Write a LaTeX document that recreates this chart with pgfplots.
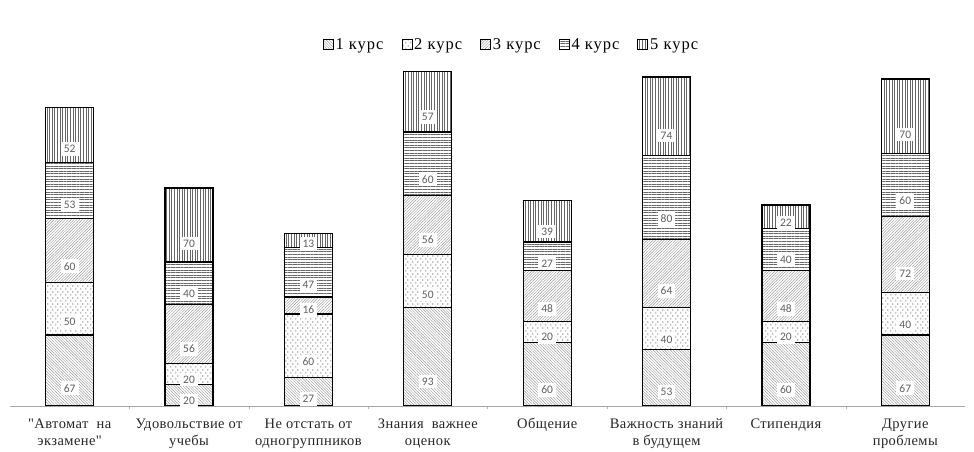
\documentclass[border=0pt]{standalone}
\usepackage{fontspec}
\setmainfont{Liberation Serif}[Ligatures=TeXOff]
\newfontfamily\calib{Carlito}
\usepackage{pgfplots}
\pgfplotsset{compat=1.18}
\usepackage{pgfplotstable}
\usetikzlibrary{patterns,patterns.meta}

\pgfdeclarepattern{
  name=vdash, type=uncolored,
  bottom left={\pgfpointorigin}, top right={\pgfpoint{5pt}{6pt}},
  tile size={\pgfpoint{5pt}{6pt}},
  code={
    \pgfsetlinewidth{0.6pt}
    \pgfpathmoveto{\pgfpoint{1pt}{0.5pt}}\pgfpathlineto{\pgfpoint{1pt}{2.5pt}}
    \pgfpathmoveto{\pgfpoint{3.5pt}{3.5pt}}\pgfpathlineto{\pgfpoint{3.5pt}{5.5pt}}
    \pgfusepath{stroke}
  }
}

\pgfplotstableread{
x c1 c2 c3 c4 c5
0 67 50 60 53 52
1 20 20 56 40 70
2 27 60 16 47 13
3 93 50 56 60 57
4 60 20 48 27 39
5 53 40 64 80 74
6 60 20 48 40 22
7 67 40 72 60 70
}\data

\begin{document}
\begin{tikzpicture}
\begin{axis}[
  ybar stacked, bar width=48pt,
  scale only axis, width=955pt, y=1.058pt,
  xmin=-0.5, xmax=7.5, ymin=0, ymax=327,
  axis y line=none, axis x line*=bottom,
  x axis line style={draw=gray!70, line width=0.8pt},
  xtick=data,
  xticklabels={{"Автомат\ \ на\\экзамене"},{Удовольствие от\\учебы},{Не отстать от\\одногруппников},{Знания\ \ важнее\\оценок},{Общение},{Важность знаний\\в будущем},{Стипендия},{Другие\\проблемы}},
  xticklabel style={align=center, font=\rmfamily\addfontfeature{LetterSpace=3}\fontsize{14.5}{17}\selectfont, text=black!85, yshift=-9pt},
  major tick length=0pt,
  minor x tick num=1, minor tick length=3pt, tick align=outside,
  minor tick style={draw=gray!60},
  enlargelimits=false,
  legend style={at={(0.5,1)}, anchor=south, yshift=5pt, xshift=24pt, draw=none, fill=none,
    font=\rmfamily\addfontfeature{LetterSpace=6}\fontsize{16.5}{18}\selectfont, legend columns=5,
    /tikz/every even column/.append style={column sep=16pt}},
  legend image code/.code={\draw[#1, line width=0.7pt] (0pt,-4.5pt) rectangle (10pt,5pt);},
  every axis plot/.append style={draw=black, line width=1.2pt},
  point meta=explicit symbolic,
  nodes near coords,
  every node near coord/.append style={anchor=center, yshift=-\pgfplotspointmeta*0.2645pt,
    font=\calib\fontsize{11.5}{12}\selectfont, text=gray!75!black, fill=white, inner sep=3pt},
]
\addplot[pattern={Lines[angle=-45,distance=2pt,line width=0.45pt]}, pattern color=gray!80] table[x=x,y=c1,meta=c1]{\data};
\addplot[pattern=vdash, pattern color=black!70] table[x=x,y=c2,meta=c2]{\data};
\addplot[pattern={Lines[angle=45,distance=2pt,line width=0.45pt]}, pattern color=gray!80] table[x=x,y=c3,meta=c3]{\data};
\addplot[pattern={Lines[angle=0,distance=2.6pt,line width=0.55pt]}, pattern color=gray!80!black] table[x=x,y=c4,meta=c4]{\data};
\addplot[pattern={Lines[angle=90,distance=2.6pt,line width=0.55pt]}, pattern color=gray!80!black] table[x=x,y=c5,meta=c5]{\data};
\legend{1 курс, 2 курс, 3 курс, 4 курс, 5 курс}
\coordinate (bl) at (rel axis cs:0,0);
\coordinate (tr) at (rel axis cs:1,1);
\end{axis}
\pgfresetboundingbox
\path ([shift={(-10pt,-46pt)}]bl) rectangle ([shift={(9pt,60pt)}]tr);
\end{tikzpicture}
\end{document}
